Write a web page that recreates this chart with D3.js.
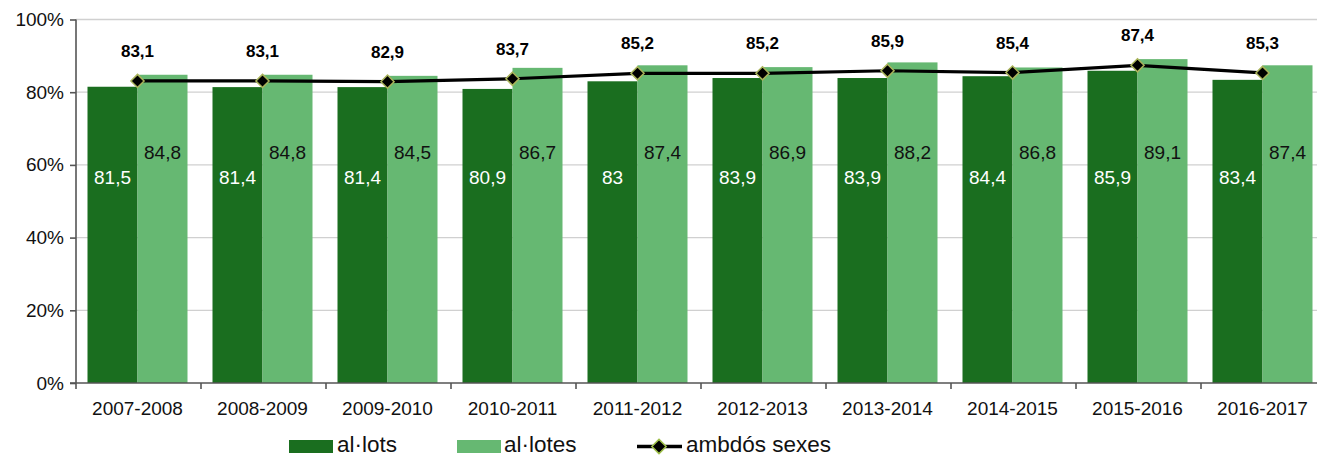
<!DOCTYPE html>
<html><head><meta charset="utf-8">
<script src="https://cdn.jsdelivr.net/npm/d3@7"></script>
<style>body{margin:0;background:#fff}svg{display:block;font-family:"Liberation Sans",Arial,sans-serif}</style>
</head><body><svg id="c" width="1317" height="457"></svg>
<script>
const categories = ["2007-2008","2008-2009","2009-2010","2010-2011","2011-2012","2012-2013","2013-2014","2014-2015","2015-2016","2016-2017"];
const alumnes = [81.5,81.4,81.4,80.9,83,83.9,83.9,84.4,85.9,83.4];
const alumnesF = [84.8,84.8,84.5,86.7,87.4,86.9,88.2,86.8,89.1,87.4];
const ambdos = [83.1,83.1,82.9,83.7,85.2,85.2,85.9,85.4,87.4,85.3];
const yTicks = [0,20,40,60,80,100];
const seriesNames = ["al·lots","al·lotes","ambdós sexes"];
const fmt = v => String(v).replace(".", ",");

const svg = d3.select("#c");
const dark = "#1a6e1f", light = "#66b872";
const x = d3.scaleBand().domain(categories).range([75,1325]).paddingInner(0.2).paddingOuter(0.1);
const xb = d3.scaleBand().domain(categories).range([75,1325]);
const y = d3.scaleLinear().domain([0,100]).range([383,19.5]);
const sub = d3.scaleBand().domain([0,1]).range([0,x.bandwidth()]);

// gridlines
svg.append("g").selectAll("line").data(yTicks.filter(d=>d>0)).join("line")
  .attr("x1",76).attr("x2",1317).attr("y1",d=>y(d)).attr("y2",d=>y(d))
  .attr("stroke","#d0d0d0").attr("stroke-width",1.3);

// bars
const g = svg.append("g");
g.selectAll(".d").data(categories).join("rect")
  .attr("x",(c)=>x(c)).attr("width",sub.bandwidth())
  .attr("y",(c,i)=>y(alumnes[i])).attr("height",(c,i)=>y(0)-y(alumnes[i])).attr("fill",dark);
g.selectAll(".l").data(categories).join("rect").attr("class","l")
  .attr("x",(c)=>x(c)+sub(1)).attr("width",sub.bandwidth())
  .attr("y",(c,i)=>y(alumnesF[i])).attr("height",(c,i)=>y(0)-y(alumnesF[i])).attr("fill",light);

// bar labels
svg.append("g").selectAll("text").data(categories).join("text")
  .attr("x",c=>x(c)+sub(0)+sub.bandwidth()/2).attr("y",y(57)+8)
  .attr("text-anchor","middle").attr("font-size",19).attr("fill","#fff")
  .text((c,i)=>fmt(alumnes[i]));
svg.append("g").selectAll("text").data(categories).join("text")
  .attr("x",c=>x(c)+sub(1)+sub.bandwidth()/2).attr("y",y(63.5)+7)
  .attr("text-anchor","middle").attr("font-size",19).attr("fill","#111")
  .text((c,i)=>fmt(alumnesF[i]));

// axes
const ya = svg.append("g").attr("transform","translate(76,0)")
  .call(d3.axisLeft(y).tickValues(yTicks).tickFormat(d=>d+"%").tickSize(6).tickPadding(6));
ya.select(".domain").attr("stroke","#555").attr("stroke-width",1.6).attr("d","M0,19.5V383");
ya.selectAll(".tick line").attr("stroke","#555").attr("stroke-width",1.6);
ya.selectAll("text").attr("font-size",19).attr("fill","#111").attr("font-family","Liberation Sans, Arial, sans-serif");

const xa = svg.append("g").attr("transform","translate(0,383)");
xa.append("line").attr("x1",70).attr("x2",1317).attr("y1",0).attr("y2",0).attr("stroke","#555").attr("stroke-width",1.6);
xa.selectAll(".t").data(categories).join("line")
  .attr("x1",c=>xb(c)+1).attr("x2",c=>xb(c)+1).attr("y1",0).attr("y2",6).attr("stroke","#555").attr("stroke-width",1.6);
xa.selectAll("text").data(categories).join("text")
  .attr("x",c=>xb(c)+xb.bandwidth()/2).attr("y",32).attr("text-anchor","middle")
  .attr("font-size",19).attr("fill","#111").text(c=>c);

// line
const cx = c => x(c)+x.bandwidth()/2;
svg.append("path").datum(categories)
  .attr("d",d3.line().x(c=>cx(c)).y((c,i)=>y(ambdos[i])))
  .attr("fill","none").attr("stroke","#000").attr("stroke-width",3.2);
const diamond = d3.symbol().type(d3.symbolDiamond2).size(110);
svg.append("g").selectAll("path").data(categories).join("path")
  .attr("transform",(c,i)=>`translate(${cx(c)},${y(ambdos[i])})`)
  .attr("d",diamond).attr("fill","#000").attr("stroke","#a9b35a").attr("stroke-width",1.5);
svg.append("g").selectAll("text").data(categories).join("text")
  .attr("x",c=>cx(c)).attr("y",(c,i)=>y(ambdos[i])-24)
  .attr("text-anchor","middle").attr("font-size",17).attr("font-weight","bold").attr("fill","#000")
  .text((c,i)=>fmt(ambdos[i]));

// legend
const lg = svg.append("g");
lg.append("rect").attr("x",289).attr("y",440).attr("width",44).attr("height",13).attr("fill",dark);
lg.append("text").attr("x",337).attr("y",452).attr("font-size",22.5).attr("fill","#111").text(seriesNames[0]);
lg.append("rect").attr("x",457).attr("y",440).attr("width",44).attr("height",13).attr("fill",light);
lg.append("text").attr("x",504).attr("y",452).attr("font-size",22.5).attr("fill","#111").text(seriesNames[1]);
lg.append("line").attr("x1",637).attr("x2",682).attr("y1",446.5).attr("y2",446.5).attr("stroke","#000").attr("stroke-width",3.5);
lg.append("path").attr("transform","translate(659,446.5)").attr("d",d3.symbol().type(d3.symbolDiamond2).size(130)).attr("fill","#000").attr("stroke","#9fc04a").attr("stroke-width",1.5);
lg.append("text").attr("x",686).attr("y",452).attr("font-size",22.5).attr("fill","#111").text(seriesNames[2]);
</script></body></html>
